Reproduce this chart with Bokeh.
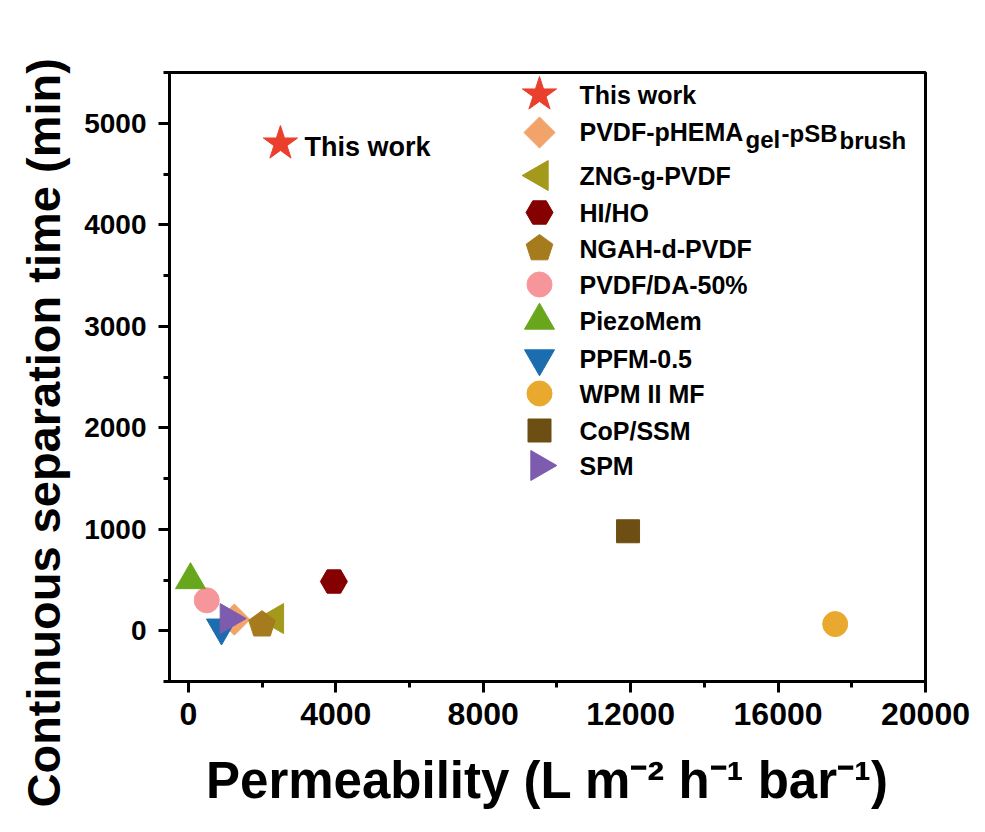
import math
from bokeh.plotting import figure
from bokeh.models import Range1d, FixedTicker, Title
from bokeh.core.properties import value
from bokeh.embed import file_html
from bokeh.resources import INLINE

# ---------------- data ----------------
names = ["This work", "PVDF-pHEMA-gel-pSB-brush", "ZNG-g-PVDF", "HI/HO", "NGAH-d-PVDF",
         "PVDF/DA-50%", "PiezoMem", "PPFM-0.5", "WPM II MF", "CoP/SSM", "SPM"]
permeability = [2500, 1250, 2350, 3950, 2000, 500, 60, 900, 17550, 11930, 1100]
sep_time = [4800, 110, 120, 485, 60, 300, 500, 30, 66, 980, 120]
x_ticks = [0, 4000, 8000, 12000, 16000, 20000]
y_ticks = [0, 1000, 2000, 3000, 4000, 5000]

# ---------------- styles ----------------
markers = ["star", "square", "triangle", "hex", "pentagon", "circle", "triangle",
           "inverted_triangle", "circle", "square", "triangle"]
colors = ["#EB3F2D", "#F2A36A", "#A39A1C", "#850000", "#A67B1E", "#F7969A",
          "#68A61C", "#1B6DAF", "#E8A92E", "#6D4F14", "#7D5CAF"]
sizes = [36, 22, 30, 27, 27, 25, 30, 30, 25, 23, 30]
angles = [0, math.pi / 4, math.pi / 2, 0, 0, 0, 0, 0, 0, 0, -math.pi / 2]

FONT = "Liberation Sans"

W, H = 985, 832
FL, FR, FT, FB = 169, 925, 72, 681
X0, X1, Y0, Y1 = -510, 20000, -500, 5500

p = figure(width=W, height=H, output_backend="svg", toolbar_location=None,
           x_range=Range1d(X0, X1), y_range=Range1d(Y0, Y1),
           min_border_left=FL, min_border_right=W - FR,
           min_border_top=FT, min_border_bottom=H - FB)
p.grid.visible = False
p.outline_line_color = "black"
p.outline_line_width = 3
p.outline_line_alpha = 1.0
p.background_fill_color = "white"
p.border_fill_color = "white"


def to_data(sx, sy):
    return (X0 + (sx - FL) / (FR - FL) * (X1 - X0),
            Y0 + (FB - sy) / (FB - FT) * (Y1 - Y0))


def pentagon_patch(cx, cy, r_px, color):
    ux = (X1 - X0) / (FR - FL)
    uy = (Y1 - Y0) / (FB - FT)
    xs = [cx + r_px * math.cos(math.pi / 2 + k * 2 * math.pi / 5) * ux for k in range(5)]
    ys = [cy + r_px * math.sin(math.pi / 2 + k * 2 * math.pi / 5) * uy for k in range(5)]
    p.patch(xs, ys, fill_color=color, line_color=color)


def draw_marker(i, x, y):
    if markers[i] == "pentagon":
        pentagon_patch(x, y, 14, colors[i])
    else:
        p.scatter(x=[x], y=[y], marker=markers[i], size=sizes[i], angle=angles[i],
                  fill_color=colors[i], line_color=colors[i], line_width=1)


# data marks (drawn so that the star is on top)
for i in list(range(1, len(names))) + [0]:
    draw_marker(i, permeability[i], sep_time[i])

# "This work" annotation next to the star
p.text(x=[permeability[0]], y=[sep_time[0]], text=["This work"], x_offset=24,
       y_offset=3, text_baseline="middle", text_font=value(FONT), text_font_style="bold",
       text_font_size="27px", text_color="black")

# ---------------- manual legend ----------------
row_sy = [94, 132, 175, 212, 248, 284, 320, 358, 393, 430, 465]
mark_sx = 539
text_sx = 579
for i in range(len(names)):
    mx, my = to_data(mark_sx, row_sy[i])
    draw_marker(i, mx, my)
    tx, ty = to_data(text_sx, row_sy[i])
    if i == 1:
        pieces = [("PVDF-pHEMA", 0, -1, "25px"), ("gel", 166, 7, "24px"),
                  ("-pSB", 202, 1, "24px"), ("brush", 260, 8, "24px")]
        for txt, dx, dy, fs in pieces:
            p.text(x=[tx], y=[ty], text=[txt], x_offset=dx, y_offset=dy,
                   text_baseline="middle", text_font=value(FONT), text_font_style="bold",
                   text_font_size=fs, text_color="black")
    else:
        p.text(x=[tx], y=[ty], text=[names[i]], text_baseline="middle",
               text_font=value(FONT), text_font_style="bold", text_font_size="25px",
               text_color="black")

# ---------------- axes ----------------
for ax in (p.xaxis[0], p.yaxis[0]):
    ax.axis_line_width = 3
    ax.axis_line_color = "black"
    ax.major_tick_line_width = 3
    ax.major_tick_line_color = "black"
    ax.minor_tick_line_width = 3
    ax.minor_tick_line_color = "black"
    ax.major_tick_in = 0
    ax.major_tick_out = 11
    ax.minor_tick_in = 0
    ax.minor_tick_out = 6
    ax.major_label_text_color = "black"
    ax.major_label_text_font = FONT
    ax.major_label_text_font_style = "bold"
    ax.axis_label_text_color = "black"

p.xaxis.ticker = FixedTicker(ticks=x_ticks, minor_ticks=list(range(0, 20001, 2000)))
p.yaxis.ticker = FixedTicker(ticks=y_ticks, minor_ticks=list(range(-500, 5501, 500)))
p.xaxis.major_label_text_font_size = "32px"
p.xaxis.major_label_standoff = 10
p.yaxis.major_label_text_font_size = "28px"
p.yaxis.major_label_standoff = 12

p.xaxis.axis_label = "Permeability (L m\u207b\u00b2 h\u207b\u00b9 bar\u207b\u00b9)"
p.xaxis.axis_label_text_font = FONT
p.xaxis.axis_label_text_font_style = "bold"
p.xaxis.axis_label_text_font_size = "51px"
p.xaxis.axis_label_standoff = 24

ytitle = Title(text="Continuous separation time (min)", align="left", offset=-126,
               vertical_align="top", standoff=20,
               text_font=FONT, text_font_style="bold", text_font_size="47px",
               text_color="black")
p.add_layout(ytitle, "left")

open("out.html", "w").write(file_html(p, INLINE))
